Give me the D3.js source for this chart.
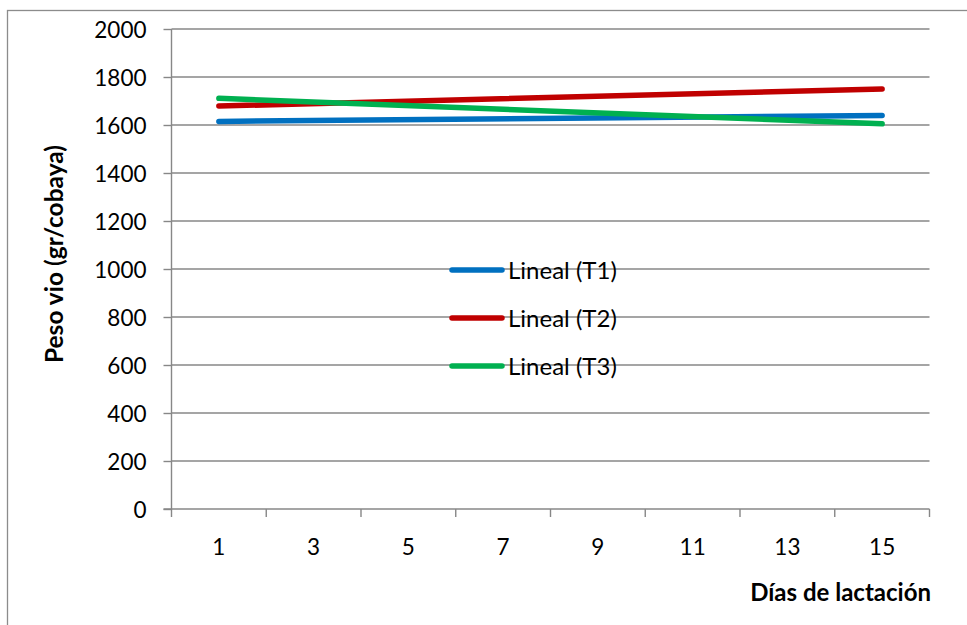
<!DOCTYPE html>
<html><head><meta charset="utf-8">
<script src="https://cdn.jsdelivr.net/npm/d3@7"></script>
<style>
html,body{margin:0;padding:0;background:#fff;}
svg{display:block;font-family:Lato,"Open Sans",sans-serif;}
</style></head>
<body>
<svg id="chart" width="967" height="625"></svg>
<script>
// ---- data ----
const categories = ["1","3","5","7","9","11","13","15"];
const yTicks = [0,200,400,600,800,1000,1200,1400,1600,1800,2000];
const trendCats = ["1","15"];
const seriesNames = ["Lineal (T1)","Lineal (T2)","Lineal (T3)"];
const t1 = [1615, 1640];
const t2 = [1679, 1750];
const t3 = [1711, 1605];
const colors = ["#0070C0","#C00000","#00B050"];
const xTitle = "Días de lactación";
const yTitle = "Peso vio (gr/cobaya)";

const svg = d3.select("#chart");
const grid = "#878787";

// outer chart border
svg.append("rect").attr("x",7.5).attr("y",10.5).attr("width",980).attr("height",640)
  .attr("fill","none").attr("stroke","#8c8c8c").attr("stroke-width",1.3);

const L=171.5, R=929.5, T=29, B=509;
const x = d3.scaleBand().domain(categories).range([L,R]);
const y = d3.scaleLinear().domain([0,2000]).range([B,T]);

// gridlines
svg.append("g").selectAll("line").data(yTicks.filter(d=>d>0)).join("line")
  .attr("x1",L).attr("x2",R).attr("y1",d=>y(d)).attr("y2",d=>y(d))
  .attr("stroke",grid).attr("stroke-width",1.4);

// y axis
const ya = svg.append("g").attr("transform",`translate(${L},0)`)
  .call(d3.axisLeft(y).tickValues(yTicks).tickSize(8).tickPadding(17).tickFormat(d3.format("d")));
ya.select(".domain").attr("stroke",grid).attr("stroke-width",1.4).attr("d",`M0,${T}V${B}`);
ya.selectAll(".tick line").attr("stroke",grid).attr("stroke-width",1.4);
ya.selectAll(".tick text").attr("font-size",22.5).attr("fill","#000").attr("font-family","Lato,sans-serif").attr("dy","0.36em");

// x axis
const xa = svg.append("g").attr("transform",`translate(0,${B})`)
  .call(d3.axisBottom(x).tickSize(0).tickPadding(30));
xa.select(".domain").attr("stroke",grid).attr("stroke-width",1.4).attr("d",`M${L-8},0H${R}`);
xa.selectAll(".tick text").attr("font-size",22.5).attr("fill","#000").attr("font-family","Lato,sans-serif");
// category boundary ticks
const bounds = categories.map(c=>x(c)).concat([R]);
svg.append("g").selectAll("line").data(bounds).join("line")
  .attr("x1",d=>d).attr("x2",d=>d).attr("y1",B).attr("y2",B+8)
  .attr("stroke",grid).attr("stroke-width",1.4);

// trend lines
const line = d3.line().x(d=>x(d[0])+x.bandwidth()/2).y(d=>y(d[1]));
[t1,t2,t3].forEach((s,i)=>{
  svg.append("path").datum(trendCats.map((c,j)=>[c,s[j]]))
    .attr("d",line).attr("fill","none").attr("stroke",colors[i])
    .attr("stroke-width",5.5).attr("stroke-linecap","round");
});

// legend
const legY = [1000,800,600];
seriesNames.forEach((n,i)=>{
  const yy = y(legY[i]) + 1;
  svg.append("line").attr("x1",452).attr("x2",502).attr("y1",yy).attr("y2",yy)
    .attr("stroke",colors[i]).attr("stroke-width",5.5).attr("stroke-linecap","round");
  svg.append("text").attr("x",508).attr("y",yy).attr("dy","0.36em")
    .attr("font-size",24).attr("fill","#000").text(n);
});

// axis titles
svg.append("text").attr("x",931).attr("y",601).attr("text-anchor","end")
  .attr("font-size",24).attr("font-weight","bold").attr("fill","#000").text(xTitle);
svg.append("text").attr("transform","translate(63,254) rotate(-90)").attr("text-anchor","middle")
  .attr("font-size",24.5).attr("font-weight","bold").attr("fill","#000").text(yTitle);
</script>
</body></html>
